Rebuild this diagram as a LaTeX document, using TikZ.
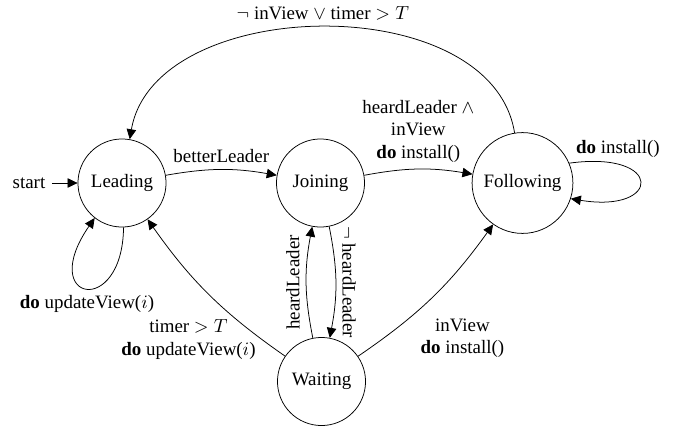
\documentclass[tikz,border=0pt]{standalone}
\usepackage{fontspec}
\setmainfont{Liberation Serif}
\usetikzlibrary{arrows.meta}

\tikzset{
	statenode/.style={draw=black, circle, thin, minimum size=46.5pt, inner sep=4.5pt},
	trans/.style={draw=black, thin, solid, -{Triangle[length=5.3pt,width=5pt]}},
}

\begin{document}
\begin{tikzpicture}[x=0.528pt, y=-0.528pt]
		\useasboundingbox (0,0) rectangle (695,428);
		% states
		\node[statenode] (leading) at (122,183) {Leading};
		\node[statenode] (joining) at (320.5,183) {Joining};
		\node[statenode] (following) at (522.5,183) {Following};
		\node[statenode] (waiting) at (321.5,381.5) {Waiting};
		\node (start) at (29,183) {start};
		% transitions
		\draw[trans] (start) -- (leading);
		\draw[trans] (leading) to[bend left=10] node[above] {betterLeader} (joining);
		\draw[trans] (joining) to[bend left=10] node[above, align=center] {heardLeader $\wedge$\\inView\\\textbf{do} install()} (following);
		\draw[trans] (following.99) .. controls +(-23,-145) and +(25,-145) .. node[above] {$\neg$ inView $\vee$ timer $>T$} (leading.80);
		\draw[trans] (following.23) .. controls +(95,-13) and +(91,15) .. node[pos=0.22, above] {\textbf{do} install()} (following.-18);
		\draw[trans] (leading.-88) .. controls +(-1,91) and +(-58,84) .. node[below] {\textbf{do} updateView($i$)} (leading.-128);
		\draw[trans] (waiting) to[bend left=10] node[pos=0.13, left, align=center] {timer $>T$\\\textbf{do} updateView($i$)} (leading);
		\draw[trans] (waiting) to[bend right=10] node[pos=0.15, right=16pt, align=center] {inView\\\textbf{do} install()} (following);
		\draw[trans] (waiting) to[bend left=11] node[midway, sloped, allow upside down, above] {heardLeader} (joining);
		\draw[trans] (joining) to[bend left=11] node[midway, sloped, allow upside down, above] {$\neg$ heardLeader} (waiting);
	\end{tikzpicture}
\end{document}
